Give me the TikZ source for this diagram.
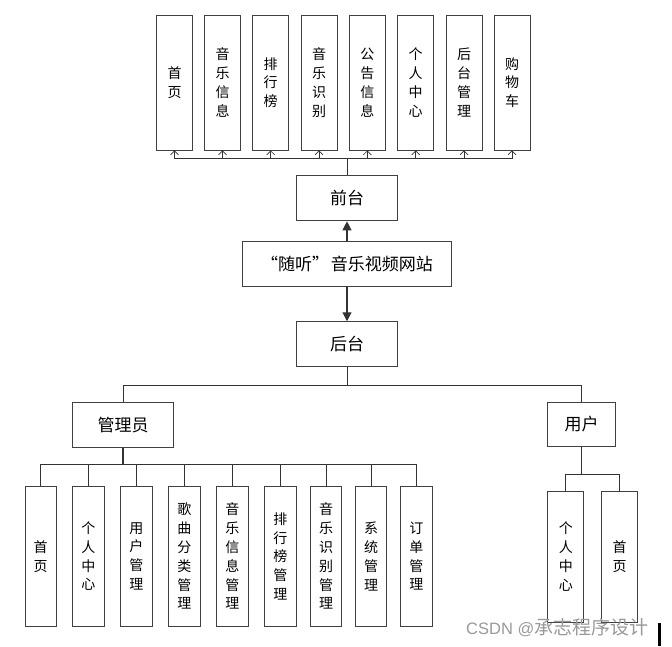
\documentclass[tikz,border=0pt]{standalone}
\usepackage{fontspec}
\setmainfont{Noto Sans CJK SC}
\newfontfamily\wmlatin{Liberation Sans}
\usetikzlibrary{arrows.meta}
\begin{document}
\begin{tikzpicture}[x=1pt,y=-1pt,
  box/.style={draw=black!75,line width=0.9pt,inner sep=0pt,align=center,fill=white},
  vbox/.style={box,font=\fontsize{14}{18.8}\selectfont},
  hbox/.style={box,font=\fontsize{17}{19}\selectfont},
  ln/.style={draw=black!80,line width=0.9pt},
  up/.style={ln,-{Straight Barb[length=4pt,width=8pt,line width=0.7pt]}},
  big/.style={ln,line width=1.2pt,-{Triangle[length=9pt,width=9pt]}}
]
\useasboundingbox (0,0) rectangle (672,646);
% top boxes
\foreach \i/\x/\t in {1/174.5/首\\页, 2/222.5/音\\乐\\信\\息, 3/270.7/排\\行\\榜, 4/319/音\\乐\\识\\别, 5/367.3/公\\告\\信\\息, 6/415.7/个\\人\\中\\心, 7/464/后\\台\\管\\理, 8/512/购\\物\\车}
  \node[vbox,minimum width=36pt,minimum height=135pt] (t\i) at (\x,82.5) {\t};
\node[hbox,minimum width=101pt,minimum height=45.7pt] (qt) at (347,198) {前台};
\node[hbox,minimum width=209pt,minimum height=45.7pt] (site) at (347,264) {“随听”\hspace{2pt}音乐视频网站};
\node[hbox,minimum width=101pt,minimum height=45pt] (ht) at (347,344.2) {后台};
\node[hbox,minimum width=101.4pt,minimum height=44.7pt] (admin) at (123,424.7) {管理员};
\node[hbox,minimum width=67.6pt,minimum height=44.4pt] (user) at (581.5,424.5) {用户};
% admin children
\foreach \i/\x/\t in {1/40.7/首\\页, 2/88.3/个\\人\\中\\心, 3/136.3/用\\户\\管\\理, 4/184.3/歌\\曲\\分\\类\\管\\理, 5/232.3/音\\乐\\信\\息\\管\\理, 6/280.3/排\\行\\榜\\管\\理, 7/326/音\\乐\\识\\别\\管\\理, 8/371/系\\统\\管\\理, 9/416.3/订\\单\\管\\理}
  \node[vbox,minimum width=31.3pt,minimum height=139.3pt] (a\i) at (\x,556.3) {\t};
% user children
\node[vbox,minimum width=36pt,minimum height=131pt] (u1) at (565.8,556.5) {个\\人\\中\\心};
\node[vbox,minimum width=36pt,minimum height=131pt] (u2) at (619.5,556.5) {首\\页};
% connectors
\coordinate (tb) at (347,158.3);
\draw[ln] (qt.north) -- (tb);
\foreach \i in {1,...,8} \draw[up] (tb) -| (t\i.south);
\draw[big] (site.north) -- (qt.south);
\draw[big] (site.south) -- (ht.north);
\coordinate (bb) at (347,385);
\draw[ln] (ht.south) -- (bb);
\draw[ln] (bb) -| (admin.north);
\draw[ln] (bb) -| (user.north);
\coordinate (ab) at (123,464);
\draw[ln,line width=1.3pt] (admin.south) -- (ab);
\foreach \i in {1,...,9} \draw[ln] (ab) -| (a\i.north);
\coordinate (ub) at (581.5,474.3);
\draw[ln] (user.south) -- (ub);
\draw[ln] (ub) -| (u1.north);
\draw[ln] (ub) -| (u2.north);
% watermark
\node[text=black!40,font=\fontsize{19}{20}\selectfont,inner sep=0pt,anchor=west] (wm) at (466,627.3) {{\wmlatin\fontsize{16.5}{20}\selectfont CSDN @}承志程序设计};
\fill[black] (658,623) rectangle (660.5,646);
\end{tikzpicture}
\end{document}
